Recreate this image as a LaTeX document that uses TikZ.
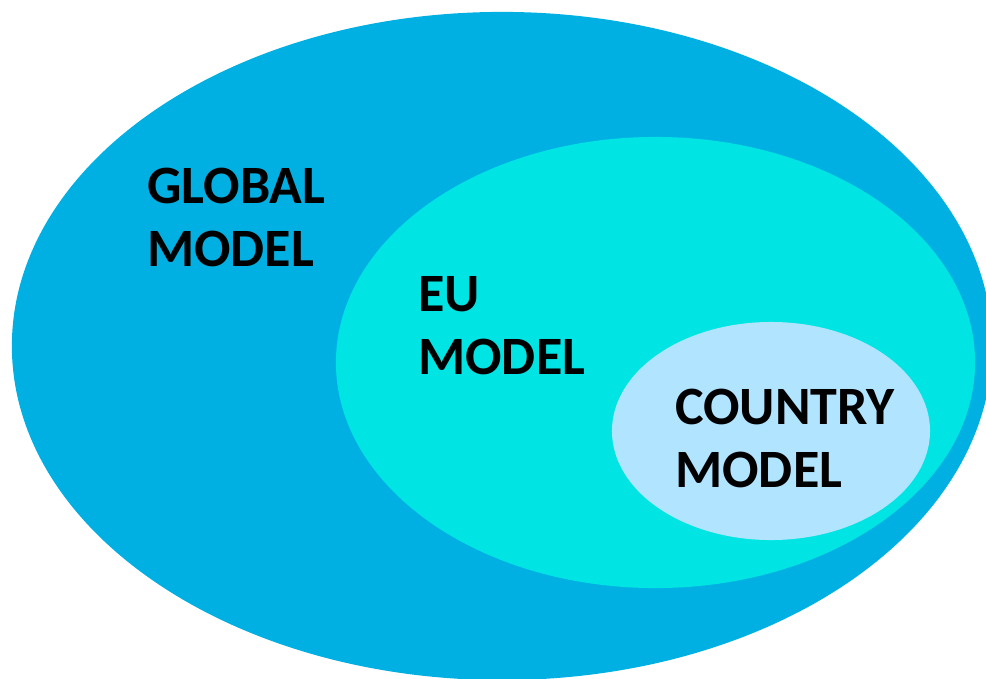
\documentclass[tikz,border=0pt]{standalone}
\usepackage{fontspec}
\setmainfont{Carlito}
\usetikzlibrary{shapes.geometric}
\definecolor{globalblue}{RGB}{0,176,226}
\definecolor{eucyan}{RGB}{0,228,228}
\definecolor{countryblue}{RGB}{176,228,255}
\tikzset{
  set_base/.style = {ellipse, draw=none, inner sep=0pt, outer sep=0pt},
  set_global/.style = {set_base, fill=globalblue, minimum width=24.5cm, minimum height=16.7cm},
  set_eu/.style = {set_base, fill=eucyan, minimum width=15.975cm, minimum height=11.275cm},
  set_country/.style = {set_base, fill=countryblue, minimum width=7.95cm, minimum height=5.45cm},
  set_label/.style = {anchor=north west, inner sep=0pt, align=left, text=black,
    font=\bfseries\fontsize{38.4}{44.8}\selectfont}
}

\begin{document}
\begin{tikzpicture}[x=0.025cm, y=-0.025cm]
\useasboundingbox (0,0) rectangle (986,678);
% nested sets, largest first
\node [set_global] (global) at (502,346) {};
\node [set_eu] (eu) at (655.5,362.5) {};
\node [set_country] (country) at (771,431) {};
% labels
\node [set_label] (global_lbl) at (147,168) {GLOBAL\\MODEL};
\node [set_label] (eu_lbl) at (418,276) {EU\\MODEL};
\node [set_label] (country_lbl) at (675,389) {COUNTRY\\MODEL};
\end{tikzpicture}
\end{document}
